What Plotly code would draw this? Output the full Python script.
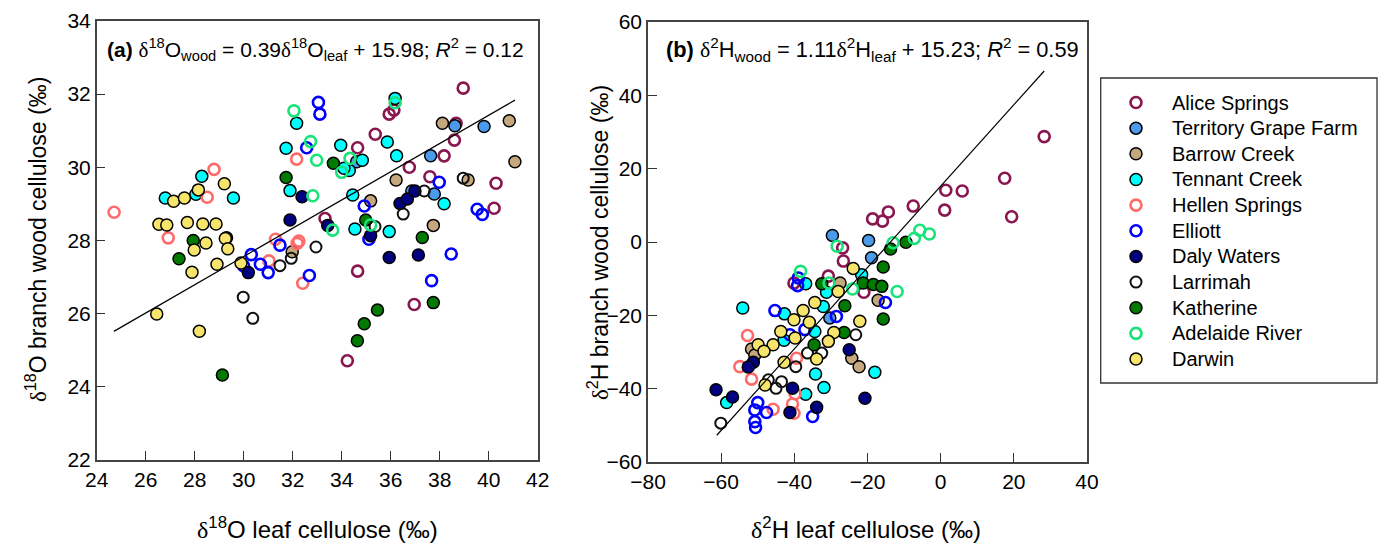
import plotly.graph_objects as go

# ---------------- Panel (a): d18O leaf (x) vs d18O wood (y) ----------------
alice_o_leaf = [38.96, 36.13, 35.94, 38.67, 38.6, 35.37, 34.65, 38.18, 36.76, 37.6, 40.3, 40.22, 33.32, 34.65, 36.96, 34.23]
alice_o_wood = [32.16, 31.56, 31.45, 31.2, 30.74, 30.9, 30.53, 30.31, 30.0, 29.74, 29.56, 28.88, 28.6, 27.16, 26.25, 24.71]
tgf_o_leaf = [38.62, 39.81, 37.63, 34.61, 36.86, 37.78]
tgf_o_wood = [31.13, 31.11, 30.31, 30.15, 29.35, 29.27]
barrow_o_leaf = [38.11, 40.84, 41.07, 36.22, 39.16, 35.18, 37.74, 31.98]
barrow_o_wood = [31.2, 31.27, 30.15, 29.65, 29.65, 29.08, 28.41, 27.69]
tennant_o_leaf = [28.29, 28.05, 29.58, 26.8, 32.16, 31.73, 31.89, 36.18, 35.86, 33.96, 36.24, 34.84, 34.31, 34.09, 34.45, 38.18, 34.54, 35.94]
tennant_o_wood = [29.75, 29.26, 29.16, 29.16, 31.2, 30.52, 29.36, 31.88, 30.69, 30.6, 30.31, 30.19, 29.91, 29.97, 29.24, 29.0, 28.31, 28.24]
hellen_o_leaf = [24.71, 28.79, 28.51, 26.92, 31.03, 31.3, 32.18, 32.25, 32.16, 32.41]
hellen_o_wood = [28.77, 29.94, 29.18, 28.07, 27.44, 28.03, 27.92, 27.98, 30.22, 26.83]
elliott_o_leaf = [30.31, 30.68, 31.0, 31.48, 32.68, 33.05, 33.11, 32.57, 37.98, 34.92, 39.53, 39.74, 35.11, 38.47, 37.67, 30.0]
elliott_o_wood = [27.61, 27.35, 27.12, 27.87, 27.04, 31.77, 31.45, 30.53, 29.59, 28.94, 28.85, 28.71, 28.03, 27.63, 26.9, 27.3]
daly_o_leaf = [30.19, 32.38, 31.89, 33.43, 36.38, 36.68, 36.99, 35.18, 35.94, 37.13]
daly_o_wood = [27.12, 29.19, 28.56, 28.41, 29.01, 29.13, 29.35, 28.13, 27.53, 27.6]
larrimah_o_leaf = [31.48, 31.94, 32.95, 37.37, 36.51, 38.96, 35.36, 29.98, 30.37]
larrimah_o_wood = [27.31, 27.51, 27.82, 29.35, 28.72, 29.7, 28.38, 26.45, 25.87]
katherine_o_leaf = [27.94, 29.3, 27.36, 31.73, 33.66, 34.98, 37.29, 37.74, 35.46, 34.92, 34.64, 29.13]
katherine_o_wood = [28.0, 28.07, 27.5, 29.72, 30.11, 28.56, 28.08, 26.3, 26.1, 25.72, 25.26, 24.32]
adelaide_o_leaf = [32.05, 32.73, 32.98, 32.82, 36.18, 34.34, 34.0, 33.63, 35.18]
adelaide_o_wood = [31.54, 30.70, 30.19, 29.22, 31.76, 30.24, 29.86, 28.28, 28.42]
darwin_o_leaf = [29.21, 28.15, 27.14, 27.58, 26.54, 26.86, 27.7, 28.33, 28.87, 27.98, 28.46, 29.25, 29.35, 28.91, 27.89, 29.89, 26.45, 28.19]
darwin_o_wood = [29.55, 29.38, 29.07, 29.16, 28.44, 28.42, 28.49, 28.45, 28.45, 27.74, 27.93, 28.05, 27.77, 27.35, 27.13, 27.38, 25.99, 25.52]

# ---------------- Panel (b): d2H leaf (x) vs d2H wood (y) ----------------
alice_h_leaf = [28.3, 17.5, 19.4, 1.4, 5.9, 1.1, -7.5, -14.3, -15.9, -18.6, -26.8, -26.6, -40.1, -30.7, -21.0]
alice_h_wood = [28.75, 17.4, 6.9, 14.1, 13.9, 8.7, 9.8, 8.2, 5.7, 6.3, -1.6, -5.2, -11.2, -9.3, -13.7]
tgf_h_leaf = [-29.6, -19.7, -18.9, -30.3]
tgf_h_wood = [1.8, 0.4, -4.3, -20.7]
barrow_h_leaf = [-27.5, -51.7, -50.8, -24.3, -22.3, -17.1]
barrow_h_wood = [-11.2, -29.2, -30.8, -31.7, -34.0, -15.9]
tennant_h_leaf = [-21.6, -36.9, -31.2, -32.1, -42.7, -54.1, -34.4, -42.8, -18.0, -34.2, -31.9, -58.5, -36.9]
tennant_h_wood = [-8.9, -11.4, -13.7, -17.6, -19.6, -18.0, -24.4, -26.8, -35.5, -36.0, -39.7, -43.8, -41.5]
hellen_h_leaf = [-52.8, -39.4, -54.9, -51.7, -39.8, -45.8, -40.5, -40.1]
hellen_h_wood = [-25.5, -31.7, -34.0, -37.4, -41.4, -45.6, -44.2, -46.7]
elliott_h_leaf = [-38.9, -39.1, -45.3, -28.5, -37.1, -41.2, -50.0, -47.6, -50.8, -35.0, -50.8, -50.6, -15.1]
elliott_h_wood = [-9.8, -11.9, -18.7, -20.3, -23.9, -25.3, -43.8, -46.5, -45.8, -47.6, -49.0, -50.6, -16.5]
daly_h_leaf = [-25.0, -51.2, -52.6, -40.5, -61.4, -56.9, -20.7, -33.9, -41.2]
daly_h_wood = [-29.4, -32.8, -34.1, -39.9, -40.3, -42.3, -42.6, -45.1, -46.5]
larrimah_h_leaf = [-23.2, -32.5, -36.4, -39.6, -47.1, -45.0, -43.5, -60.1]
larrimah_h_wood = [-25.3, -30.3, -30.3, -34.0, -37.6, -39.9, -38.1, -49.4]
katherine_h_leaf = [-9.5, -13.7, -32.5, -21.2, -18.4, -26.2, -26.4, -34.6, -15.7, -16.1, -15.7]
katherine_h_wood = [-0.05, -1.9, -11.4, -11.2, -11.6, -17.4, -24.7, -28.0, -6.8, -12.1, -21.0]
adelaide_h_leaf = [-5.7, -3.1, -7.2, -13.0, -28.3, -38.3, -30.5, -24.1, -11.9]
adelaide_h_wood = [3.2, 2.2, 1.0, -0.2, -1.15, -8.0, -11.2, -12.8, -13.5]
darwin_h_leaf = [-23.9, -28.0, -34.4, -37.6, -35.9, -40.1, -22.1, -43.7, -29.2, -39.8, -49.9, -45.8, -48.3, -30.7, -33.9, -42.8, -48.0]
darwin_h_wood = [-7.2, -13.5, -16.5, -18.7, -21.9, -21.2, -21.6, -24.4, -24.7, -26.2, -28.0, -28.0, -29.8, -27.1, -31.9, -32.8, -39.0]

# Regression fits (slope, intercept, x-range)
fit_a = {"slope": 0.386, "intercept": 15.98, "xmin": 24.7, "xmax": 41.07}
fit_b = {"slope": 1.11, "intercept": 15.23, "xmin": -61.2, "xmax": 28.3}

site_names = ["Alice Springs", "Territory Grape Farm", "Barrow Creek", "Tennant Creek",
              "Hellen Springs", "Elliott", "Daly Waters", "Larrimah", "Katherine",
              "Adelaide River", "Darwin"]

panel_a = [(alice_o_leaf, alice_o_wood), (tgf_o_leaf, tgf_o_wood), (barrow_o_leaf, barrow_o_wood),
           (tennant_o_leaf, tennant_o_wood), (hellen_o_leaf, hellen_o_wood), (elliott_o_leaf, elliott_o_wood),
           (daly_o_leaf, daly_o_wood), (larrimah_o_leaf, larrimah_o_wood), (katherine_o_leaf, katherine_o_wood),
           (adelaide_o_leaf, adelaide_o_wood), (darwin_o_leaf, darwin_o_wood)]
panel_b = [(alice_h_leaf, alice_h_wood), (tgf_h_leaf, tgf_h_wood), (barrow_h_leaf, barrow_h_wood),
           (tennant_h_leaf, tennant_h_wood), (hellen_h_leaf, hellen_h_wood), (elliott_h_leaf, elliott_h_wood),
           (daly_h_leaf, daly_h_wood), (larrimah_h_leaf, larrimah_h_wood), (katherine_h_leaf, katherine_h_wood),
           (adelaide_h_leaf, adelaide_h_wood), (darwin_h_leaf, darwin_h_wood)]

# Marker styles: (open?, colour)
styles = [(True, "#8A1650"), (False, "#4B9BEA"), (False, "#C6A87E"), (False, "#00FFFF"),
          (True, "#FF6B6B"), (True, "#0000FF"), (False, "#000080"), (True, "#111111"),
          (False, "#007A00"), (True, "#19E37A"), (False, "#F6E46B")]


def marker_for(style):
    is_open, col = style
    if is_open:
        lw = 2.0 if col == "#111111" else 2.6
        return dict(symbol="circle-open", size=11, color=col, line=dict(width=lw, color=col))
    return dict(symbol="circle", size=12, color=col, line=dict(width=1.5, color="black"))


W, H = 1381, 555
def px_x(p):
    return p / W
def px_y(p):
    return 1 - p / H

fig = go.Figure()
FONT = "Liberation Sans, Arial, sans-serif"

for name, (xs, ys), st in zip(site_names, panel_a, styles):
    fig.add_trace(go.Scatter(x=xs, y=ys, mode="markers", name=name, marker=marker_for(st),
                             xaxis="x", yaxis="y", showlegend=False))
for name, (xs, ys), st in zip(site_names, panel_b, styles):
    fig.add_trace(go.Scatter(x=xs, y=ys, mode="markers", name=name, marker=marker_for(st),
                             xaxis="x2", yaxis="y2", showlegend=False))

for fit, xa, ya in [(fit_a, "x", "y"), (fit_b, "x2", "y2")]:
    fx = [fit["xmin"], fit["xmax"]]
    fy = [fit["slope"] * v + fit["intercept"] for v in fx]
    fig.add_trace(go.Scatter(x=fx, y=fy, mode="lines", line=dict(color="black", width=1.2),
                             xaxis=xa, yaxis=ya, showlegend=False, hoverinfo="skip"))

# ---- legend (drawn on an invisible full-page axis so it can be laid out exactly) ----
LEG_BOX = (1100.7, 78, 1377, 383)   # left, top, right, bottom in px
LEG_SYM_X, LEG_TXT_X, LEG_ROW0, LEG_ROW_GAP = 1136, 1170, 102.5, 25.65
annotations = []
for i, (name, st) in enumerate(zip(site_names, styles)):
    ry = LEG_ROW0 + i * LEG_ROW_GAP
    fig.add_trace(go.Scatter(x=[px_x(LEG_SYM_X)], y=[px_y(ry)], mode="markers", marker=marker_for(st),
                             xaxis="x3", yaxis="y3", showlegend=False, hoverinfo="skip"))
    annotations.append(dict(text=name, x=px_x(LEG_TXT_X), y=px_y(ry), xanchor="left", yanchor="middle",
                            font=dict(size=20)))

axis_common = dict(showgrid=False, zeroline=False, showline=True, linecolor="#444444", linewidth=1.5,
                   mirror=True, ticks="inside", ticklen=9, tickwidth=1.2, tickcolor="#333333",
                   automargin=False, tickfont=dict(family=FONT, size=21, color="black"))

fig.update_layout(
    width=W, height=H, margin=dict(l=0, r=0, t=0, b=0, pad=0),
    paper_bgcolor="white", plot_bgcolor="rgba(0,0,0,0)",
    font=dict(family=FONT, color="black"),
    xaxis=dict(domain=[px_x(96.7), px_x(537.7)], range=[24, 42], dtick=2, anchor="y", **axis_common),
    yaxis=dict(domain=[px_y(460), px_y(20.8)], range=[22, 34], dtick=2, anchor="x", **axis_common),
    xaxis2=dict(domain=[px_x(648), px_x(1087)], range=[-80, 40], dtick=20, anchor="y2", **axis_common),
    yaxis2=dict(domain=[px_y(462), px_y(22)], range=[-60, 60], dtick=20, anchor="x2", **axis_common),
    xaxis3=dict(domain=[0, 1], range=[0, 1], visible=False, anchor="y3", automargin=False, fixedrange=True),
    yaxis3=dict(domain=[0, 1], range=[0, 1], visible=False, anchor="x3", automargin=False, fixedrange=True),
    showlegend=False,
    shapes=[dict(type="rect", xref="paper", yref="paper",
                 x0=px_x(LEG_BOX[0]), x1=px_x(LEG_BOX[2]), y0=px_y(LEG_BOX[3]), y1=px_y(LEG_BOX[1]),
                 line=dict(color="#333333", width=1.3), fillcolor="rgba(0,0,0,0)", layer="below")],
)

d = "<span style=\"font-family:'Liberation Serif', 'Times New Roman', serif\">δ</span>"
annotations += [
    dict(text="<b>(a)</b> " + d + "<sup>18</sup>O<sub>wood</sub> = 0.39" + d + "<sup>18</sup>O<sub>leaf</sub> + 15.98; <i>R</i><sup>2</sup> = 0.12",
         x=px_x(105), y=px_y(50), xanchor="left", yanchor="middle", font=dict(size=21)),
    dict(text="<b>(b)</b> " + d + "<sup>2</sup>H<sub>wood</sub> = 1.11" + d + "<sup>2</sup>H<sub>leaf</sub> + 15.23; <i>R</i><sup>2</sup> = 0.59",
         x=px_x(664), y=px_y(50), xanchor="left", yanchor="middle", font=dict(size=21.8)),
    dict(text=d + "<sup>18</sup>O leaf cellulose (‰)", x=px_x(317), y=px_y(528),
         xanchor="center", yanchor="middle", font=dict(size=24)),
    dict(text=d + "<sup>2</sup>H leaf cellulose (‰)", x=px_x(866), y=px_y(528),
         xanchor="center", yanchor="middle", font=dict(size=24)),
    dict(text=d + "<sup>18</sup>O branch wood cellulose (‰)", x=px_x(36), y=px_y(240),
         xanchor="center", yanchor="middle", textangle=-90, font=dict(size=23)),
    dict(text=d + "<sup>2</sup>H branch wood cellulose (‰)", x=px_x(598), y=px_y(243),
         xanchor="center", yanchor="middle", textangle=-90, font=dict(size=23)),
]
for a in annotations:
    a.update(xref="paper", yref="paper", showarrow=False)
    a["font"] = dict(family=FONT, color="black", size=a["font"]["size"])
fig.update_layout(annotations=annotations)

fig.write_html("out.html")
